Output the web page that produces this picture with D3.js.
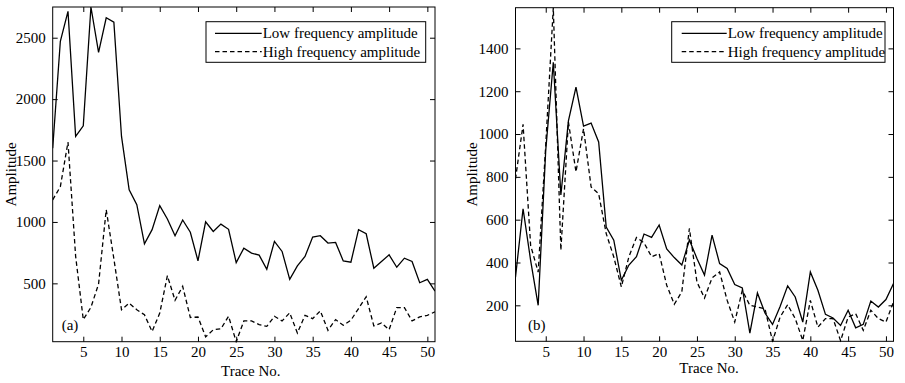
<!DOCTYPE html>
<html><head><meta charset="utf-8">
<script src="https://cdn.jsdelivr.net/npm/d3@7"></script>
<style>
body{margin:0;background:#fff}
svg{display:block}
text{font-family:"Liberation Serif","Times New Roman",serif;font-size:15px;fill:#000}
</style>
</head><body>
<svg id="chart" width="905" height="383"></svg>
<script>
const traces = d3.range(1, 52);

const lowA = [1600, 2471, 2715, 1696, 1783, 2750, 2381, 2662, 2626, 1696,
  1262, 1140, 822, 937, 1133, 1024, 888, 1016, 916, 684,
  1001, 922, 982, 940, 669, 787, 746, 730, 615, 842,
  760, 533, 642, 719, 877, 888, 828, 833, 683, 672,
  937, 904, 623, 678, 732, 631, 705, 678, 505, 533, 437];
const highA = [1180, 1287, 1650, 720, 205, 305, 495, 1100, 700, 285,
  339, 285, 244, 108, 258, 562, 362, 476, 222, 226,
  65, 122, 130, 232, 25, 194, 194, 164, 150, 232,
  194, 260, 96, 240, 213, 276, 118, 205, 159, 200,
  295, 391, 153, 178, 123, 303, 303, 194, 227, 240, 268];

const lowB = [332, 651, 410, 200, 925, 1335, 715, 1061, 1219, 1037,
  1051, 963, 566, 504, 317, 388, 427, 533, 517, 575,
  463, 423, 388, 505, 419, 341, 528, 395, 372, 297,
  281, 70, 258, 164, 111, 195, 291, 239, 122, 356,
  270, 158, 141, 106, 177, 95, 111, 220, 192, 227, 302];
const highB = [790, 1045, 480, 355, 950, 1590, 457, 1056, 823, 1025,
  753, 721, 535, 426, 286, 427, 517, 492, 427, 442,
  294, 205, 263, 559, 309, 234, 328, 356, 223, 122,
  270, 200, 192, 184, 32, 145, 203, 138, 36, 223,
  98, 138, 138, 35, 145, 161, 83, 177, 138, 122, 216];

const xTicks = [5, 10, 15, 20, 25, 30, 35, 40, 45, 50];
const yTicksA = [500, 1000, 1500, 2000, 2500];
const yTicksB = [200, 400, 600, 800, 1000, 1200, 1400];
const seriesNames = ["Low frequency amplitude", "High frequency amplitude"];
const panelTags = ["(a)", "(b)"];
const xTitle = "Trace No.";
const yTitle = "Amplitude";

const svg = d3.select("#chart");
const fmt = d3.format("d");

function drawPanel(cfg) {
  const g = svg.append("g");
  const all = cfg.low.concat(cfg.high);
  const x = d3.scaleLinear().domain([1, 51]).range([cfg.l, cfg.r]);
  const y = d3.scaleLinear().domain(d3.extent(all)).range([cfg.b, cfg.t]);
  const tick = 5;

  const clipId = "clip" + cfg.id;
  svg.append("clipPath").attr("id", clipId).append("rect")
    .attr("x", cfg.l).attr("y", cfg.t - 1).attr("width", cfg.r - cfg.l).attr("height", cfg.b - cfg.t + 2);

  const line = d3.line().x((d, i) => x(traces[i])).y(d => y(d));
  g.append("path").datum(cfg.low).attr("d", line).attr("clip-path", `url(#${clipId})`)
    .attr("fill", "none").attr("stroke", "#000").attr("stroke-width", 1.3).attr("stroke-linejoin", "miter");
  g.append("path").datum(cfg.high).attr("d", line).attr("clip-path", `url(#${clipId})`)
    .attr("fill", "none").attr("stroke", "#000").attr("stroke-width", 1.3).attr("stroke-dasharray", "4.5,3");

  const bottom = d3.axisBottom(x).tickValues(xTicks).tickSizeInner(-tick).tickSizeOuter(0).tickPadding(5).tickFormat(fmt);
  const top = d3.axisTop(x).tickValues(xTicks).tickSizeInner(-tick).tickSizeOuter(0).tickFormat("");
  const left = d3.axisLeft(y).tickValues(cfg.yTicks).tickSizeInner(-tick).tickSizeOuter(0).tickPadding(7).tickFormat(fmt);
  const right = d3.axisRight(y).tickValues(cfg.yTicks).tickSizeInner(-tick).tickSizeOuter(0).tickFormat("");

  const style = sel => {
    sel.select(".domain").remove();
    sel.selectAll("line").attr("stroke", "#000").attr("stroke-width", 1);
    sel.selectAll("text").attr("font-family", null).attr("font-size", null).attr("fill", "#000");
  };
  g.append("g").attr("transform", `translate(0,${cfg.b})`).call(bottom).call(style);
  g.append("g").attr("transform", `translate(0,${cfg.t})`).call(top).call(style);
  g.append("g").attr("transform", `translate(${cfg.l},0)`).call(left).call(style);
  g.append("g").attr("transform", `translate(${cfg.r},0)`).call(right).call(style);

  g.append("rect").attr("x", cfg.l).attr("y", cfg.t).attr("width", cfg.r - cfg.l).attr("height", cfg.b - cfg.t)
    .attr("fill", "none").attr("stroke", "#000").attr("stroke-width", 1);

  g.append("text").attr("x", cfg.xtX).attr("y", cfg.xtY).attr("text-anchor", "middle").text(xTitle);
  g.append("text").attr("transform", `translate(${cfg.ytX},${(cfg.t + cfg.b) / 2}) rotate(-90)`)
    .attr("text-anchor", "middle").text(yTitle);

  g.append("text").attr("x", cfg.tagX).attr("y", 330).text(cfg.tag);

  const lg = cfg.legend;
  g.append("rect").attr("x", lg.x0).attr("y", 21.7).attr("width", lg.x1 - lg.x0).attr("height", 40.6)
    .attr("fill", "#fff").attr("stroke", "#000").attr("stroke-width", 1);
  const rows = [{y: 33.3, base: 38.3, dash: null}, {y: 51.7, base: 57, dash: "4.5,3"}];
  rows.forEach((r, i) => {
    const ln = g.append("line").attr("x1", lg.l0).attr("x2", lg.l1).attr("y1", r.y).attr("y2", r.y)
      .attr("stroke", "#000").attr("stroke-width", 1.2);
    if (r.dash) ln.attr("stroke-dasharray", r.dash);
    g.append("text").attr("x", lg.l1 + 1).attr("y", r.base).text(seriesNames[i]);
  });
}

drawPanel({id: "a", low: lowA, high: highA, yTicks: yTicksA, l: 52.7, r: 435, t: 7, b: 341.7,
  xtX: 250.8, xtY: 376, ytX: 15.5, tagX: 61.7, tag: panelTags[0],
  legend: {x0: 206, x1: 425.7, l0: 215, l1: 261.7}});
drawPanel({id: "b", low: lowB, high: highB, yTicks: yTicksB, l: 515.5, r: 893.5, t: 7.7, b: 341.3,
  xtX: 709, xtY: 373, ytX: 476.7, tagX: 528, tag: panelTags[1],
  legend: {x0: 671.7, x1: 885, l0: 681.7, l1: 726.7}});
</script>
</body></html>
